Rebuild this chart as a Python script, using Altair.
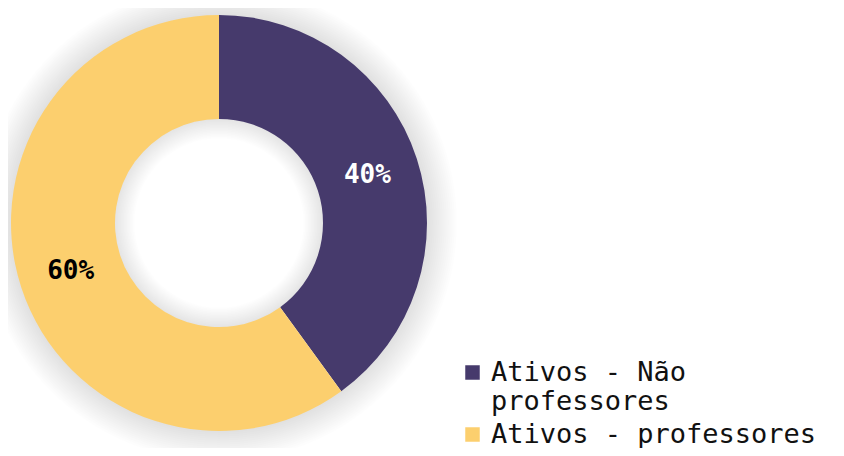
import altair as alt
import pandas as pd
import math

categorias = ["Ativos - Não professores", "Ativos - professores"]
valores = [40, 60]
rotulos = ["40%", "60%"]
ordem = [0, 1]
cores = ["#463A6C", "#FCCF6E"]

df = pd.DataFrame({"categoria": categorias, "valor": valores, "rotulo": rotulos, "ordem": ordem})
one = pd.DataFrame({"a": [0]})

CX, CY = 211, 215
R_OUT, R_IN = 208, 104

layers = []
# soft shadow outside and inside
for i in range(1, 16):
    layers.append(
        alt.Chart(one).mark_arc(
            theta=0, theta2=2 * math.pi, radius=R_OUT + 2 * i, radius2=R_OUT - 1,
            color="black", opacity=0.009
        ).encode(x=alt.value(CX), y=alt.value(CY))
    )
for i in range(1, 14):
    layers.append(
        alt.Chart(one).mark_arc(
            theta=0, theta2=2 * math.pi, radius=R_IN + 1, radius2=R_IN - 1.5 * i,
            color="black", opacity=0.009
        ).encode(x=alt.value(CX), y=alt.value(CY))
    )

base = alt.Chart(df).encode(
    theta=alt.Theta("valor:Q", stack=True),
    order=alt.Order("ordem:Q"),
    x=alt.value(CX),
    y=alt.value(CY),
)

arcs = base.mark_arc(outerRadius=R_OUT, innerRadius=R_IN, stroke=None).encode(
    color=alt.Color(
        "categoria:N",
        scale=alt.Scale(domain=categorias, range=cores),
        sort=categorias,
        legend=alt.Legend(
            orient="none", legendX=451, legendY=351, title=None,
            symbolType="square", symbolSize=210, symbolStrokeWidth=0,
            labelFont="DejaVu Sans Mono", labelFontSize=27, labelColor="#111111",
            labelLimit=0, labelOffset=5, rowPadding=5,
            labelExpr="datum.label == 'Ativos - Não professores' ? ['Ativos - Não', 'professores'] : datum.label",
        ),
    )
)

texts = base.mark_text(
    radius=156, font="DejaVu Sans Mono", fontWeight="bold", fontSize=26
).encode(
    text="rotulo:N",
    color=alt.condition("datum.ordem == 0", alt.value("white"), alt.value("black")),
)

chart = alt.layer(*layers, arcs, texts).properties(
    width=828, height=440, padding=0, autosize="none", background="white"
).configure_view(stroke=None)

chart.save("out.html", embed_options={"renderer": "svg", "actions": False})
